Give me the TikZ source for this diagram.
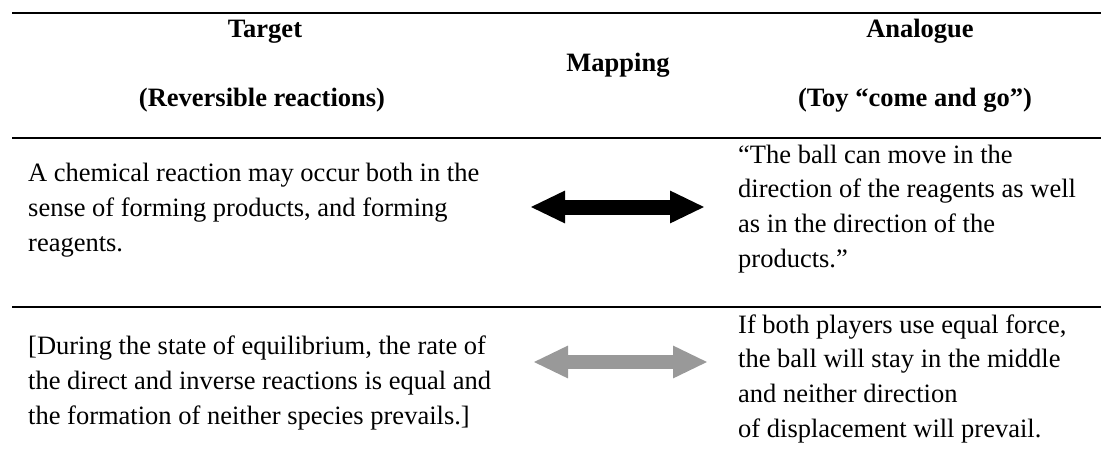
\documentclass[tikz,border=0pt]{standalone}
\usepackage{fontspec}
\setmainfont{Liberation Serif}
\usetikzlibrary{arrows.meta}
\definecolor{mapgray}{RGB}{153,153,153}
\newcommand{\cellfont}{\fontsize{26.5}{34.6}\selectfont}

\begin{document}
\begin{tikzpicture}[x=1pt, y=-1pt,
  rule/.style={line width=2.8pt},
  headtext/.style={font=\cellfont\bfseries, inner sep=0, anchor=base},
  celltext/.style={font=\cellfont, inner sep=0, anchor=base west, align=left},
  maparrow/.style={line width=15pt,
    {Triangle[length=35pt,width=30pt]}-{Triangle[length=35pt,width=30pt]}}]

  \useasboundingbox (0,0) rectangle (1101,469);

  % rules of the table
  \draw[rule] (12,13) -- (1101,13);
  \draw[rule] (12,138) -- (1101,138);
  \draw[rule] (12,307) -- (1101,307);

  % header
  \node[headtext] (tgtHead) at ({265}, 37) {Target};
  \node[headtext] (tgtSub) at ({262}, 106) {(Reversible reactions)};
  \node[headtext] (mapHead) at ({618}, 71) {Mapping};
  \node[headtext] (anaHead) at ({920}, 37) {Analogue};
  \node[headtext] (anaSub) at ({915}, 106) {(Toy “come and go”)};

  % first row (a node's base is the baseline of its last line)
  \node[celltext] (tgtOne) at ({28}, 251)
  {A chemical reaction may occur both in the\\
   sense of forming products, and forming\\
   reagents.};
  \node[celltext] (anaOne) at ({738}, 267)
  {“The ball can move in the\\
   direction of the reagents as well\\
   as in the direction of the\\
   products.”};
  \coordinate (mapOneL) at ({530}, 207);
  \coordinate (mapOneR) at ({705}, 207);
  \draw[maparrow] (mapOneL) -- (mapOneR);

  % second row
  \node[celltext] (tgtTwo) at ({28}, 424)
  {[During the state of equilibrium, the rate of\\
   the direct and inverse reactions is equal and\\
   the formation of neither species prevails.]};
  \node[celltext] (anaTwo) at ({738}, 437)
  {If both players use equal force,\\
   the ball will stay in the middle\\
   and neither direction\\
   of displacement will prevail.};
  \coordinate (mapTwoL) at ({533}, 362);
  \coordinate (mapTwoR) at ({708}, 362);
  \draw[maparrow, mapgray, line width=14pt] (mapTwoL) -- (mapTwoR);

\end{tikzpicture}
\end{document}
